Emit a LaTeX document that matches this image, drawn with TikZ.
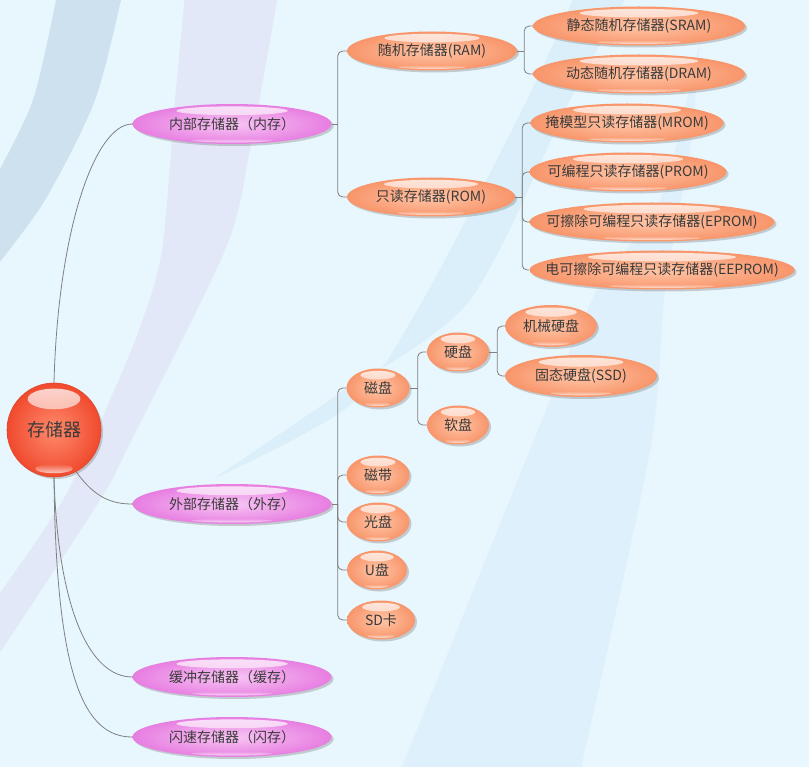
\documentclass[tikz,border=0pt]{standalone}
\usepackage{fontspec}
\setmainfont{Noto Sans CJK SC}
\usetikzlibrary{shapes.geometric,shadows,calc,fadings}

\definecolor{bgblue}{HTML}{E8F6FD}
\definecolor{bandgrey}{HTML}{CDE1EE}
\definecolor{bandlav}{HTML}{E2E8F7}
\definecolor{bandsky}{HTML}{DBEFFA}
\definecolor{bandpale}{HTML}{DEF0FB}
\definecolor{txtgray}{HTML}{3A3A3A}
\definecolor{linkgray}{HTML}{808080}
\definecolor{rootin}{HTML}{FF8A6C}
\definecolor{rootout}{HTML}{F04A2E}
\definecolor{rootedge}{HTML}{E0452C}
\definecolor{pinkin}{HTML}{F8C6F4}
\definecolor{pinkout}{HTML}{E77EE1}
\definecolor{orgin}{HTML}{FFC6A8}
\definecolor{orgout}{HTML}{F8956A}

% zero-width label, the bubble size comes from the style
\newcommand{\nodetext}[1]{\makebox[0pt]{#1}}

\begin{document}
\begin{tikzpicture}[
  x=1pt, y=-1pt,
  font=\fontsize{14}{17}\selectfont,
  gloss/.style={path picture={
    \fill[white, opacity=0.8, path fading=south]
      let \p1=(path picture bounding box.south west),
          \p2=(path picture bounding box.north east) in
      ({0.5*(\x1+\x2)},{\y2-0.17*(\y2-\y1)}) ellipse ({0.28*(\x2-\x1)} and {0.11*(\y2-\y1)});
    \fill[white, opacity=0.7, path fading=north]
      let \p1=(path picture bounding box.south west),
          \p2=(path picture bounding box.north east) in
      ({0.5*(\x1+\x2)},{\y1+0.09*(\y2-\y1)}) ellipse ({0.2*(\x2-\x1)} and {0.05*(\y2-\y1)});
  }},
  bubble/.style={ellipse, inner sep=0pt, text=txtgray, gloss,
    drop shadow={shadow xshift=2pt, shadow yshift=-2pt, opacity=0.3, fill=black!60}},
  root/.style={bubble, circle, minimum size=94pt, draw=rootedge, line width=0.6pt,
    inner color=rootin, outer color=rootout, font=\fontsize{18}{21}\selectfont},
  main/.style={bubble, minimum width=199pt, minimum height=40pt,
    inner color=pinkin, outer color=pinkout},
  leaf/.style={bubble, minimum height=39pt, inner color=orgin, outer color=orgout},
  link/.style={draw=linkgray, line width=0.8pt},
  elbow/.style={link, rounded corners=5pt}
]

% background
\fill[bgblue] (0,0) rectangle (809,767);
\useasboundingbox (0,0) rectangle (809,767);
\begin{scope}
  \clip (0,0) rectangle (809,767);
  \fill[bandgrey] plot[smooth] coordinates {(57,-5) (33,100) (-5,178)}
    -- plot[smooth] coordinates {(-5,268) (45,200) (95,100) (122,-5)} -- cycle;
  \fill[bandlav] plot[smooth] coordinates {(185,-5) (175,100) (162,250) (140,327) (110,400) (63,500) (-5,600)}
    -- plot[smooth] coordinates {(-5,660) (100,500) (130,443) (225,250) (250,150) (278,-5)} -- cycle;
  \fill[bandsky] plot[smooth] coordinates {(575,-5) (527,100) (423,300) (350,405) (215,478)}
    -- plot[smooth] coordinates {(352,385) (470,300) (570,100) (628,-5)} -- cycle;
  \fill[bandpale] plot[smooth] coordinates {(700,40) (660,200) (597,290) (530,450) (400,772)}
    -- plot[smooth] coordinates {(580,772) (650,450) (665,290) (690,150) (700,40)} -- cycle;
\end{scope}

% root and first level
\node[root] (mem) at (54,430) {\nodetext{存储器}};
\node[main] (inner) at (232,124) {\nodetext{内部存储器（内存）}};
\node[main] (outer) at (232,504) {\nodetext{外部存储器（外存）}};
\node[main] (cache) at (232,677) {\nodetext{缓冲存储器（缓存）}};
\node[main] (flash) at (232,737) {\nodetext{闪速存储器（闪存）}};

% inner memory
\node[leaf, minimum width=170pt] (ram) at (432,51) {\nodetext{随机存储器(RAM)}};
\node[leaf, minimum width=168pt] (rom) at (431,197) {\nodetext{只读存储器(ROM)}};
\node[leaf, minimum width=212pt] (sram) at (639,26) {\nodetext{静态随机存储器(SRAM)}};
\node[leaf, minimum width=212pt] (dram) at (639,74) {\nodetext{动态随机存储器(DRAM)}};
\node[leaf, minimum width=193pt] (mrom) at (627,123) {\nodetext{掩模型只读存储器(MROM)}};
\node[leaf, minimum width=197pt] (prom) at (628,172) {\nodetext{可编程只读存储器(PROM)}};
\node[leaf, minimum width=245pt] (eprom) at (652,222) {\nodetext{可擦除可编程只读存储器(EPROM)}};
\node[leaf, minimum width=265pt] (eeprom) at (662,270) {\nodetext{电可擦除可编程只读存储器(EEPROM)}};

% outer memory
\node[leaf, minimum width=63pt] (disk) at (378,388) {\nodetext{磁盘}};
\node[leaf, minimum width=62pt] (hdd) at (458,352) {\nodetext{硬盘}};
\node[leaf, minimum width=62pt] (fdd) at (458,425) {\nodetext{软盘}};
\node[leaf, minimum width=92pt, minimum height=42pt] (mech) at (551,326) {\nodetext{机械硬盘}};
\node[leaf, minimum width=152pt, minimum height=42pt] (ssd) at (581,376) {\nodetext{固态硬盘(SSD)}};
\node[leaf, minimum width=63pt] (tape) at (378,475) {\nodetext{磁带}};
\node[leaf, minimum width=63pt] (cd) at (378,522) {\nodetext{光盘}};
\node[leaf, minimum width=60pt] (udisk) at (377,570) {\nodetext{U盘}};
\node[leaf, minimum width=68pt] (sd) at (381,620) {\nodetext{SD卡}};

% root links
\draw[link] (mem.north) .. controls (58,230) and (95,124) .. (inner.west);
\draw[link] (mem.-62) .. controls (95,498) and (112,504) .. (outer.west);
\draw[link] (mem.south) .. controls (58,610) and (90,677) .. (cache.west);
\draw[link] (mem.south) .. controls (56,680) and (85,737) .. (flash.west);

% tree links
\draw[link] (inner.east) -- ++(6,0) coordinate (innerj);
\foreach \c in {ram,rom} \draw[elbow] (innerj) |- (\c.west);
\draw[link] (ram.east) -- ++(7,0) coordinate (ramj);
\foreach \c in {sram,dram} \draw[elbow] (ramj) |- (\c.west);
\draw[link] (rom.east) -- ++(7,0) coordinate (romj);
\foreach \c in {mrom,prom,eprom,eeprom} \draw[elbow] (romj) |- (\c.west);
\draw[link] (outer.east) -- ++(6,0) coordinate (outerj);
\foreach \c in {disk,tape,cd,udisk,sd} \draw[elbow] (outerj) |- (\c.west);
\draw[link] (disk.east) -- ++(8,0) coordinate (diskj);
\foreach \c in {hdd,fdd} \draw[elbow] (diskj) |- (\c.west);
\draw[link] (hdd.east) -- ++(8,0) coordinate (hddj);
\foreach \c in {mech,ssd} \draw[elbow] (hddj) |- (\c.west);

\end{tikzpicture}
\end{document}
